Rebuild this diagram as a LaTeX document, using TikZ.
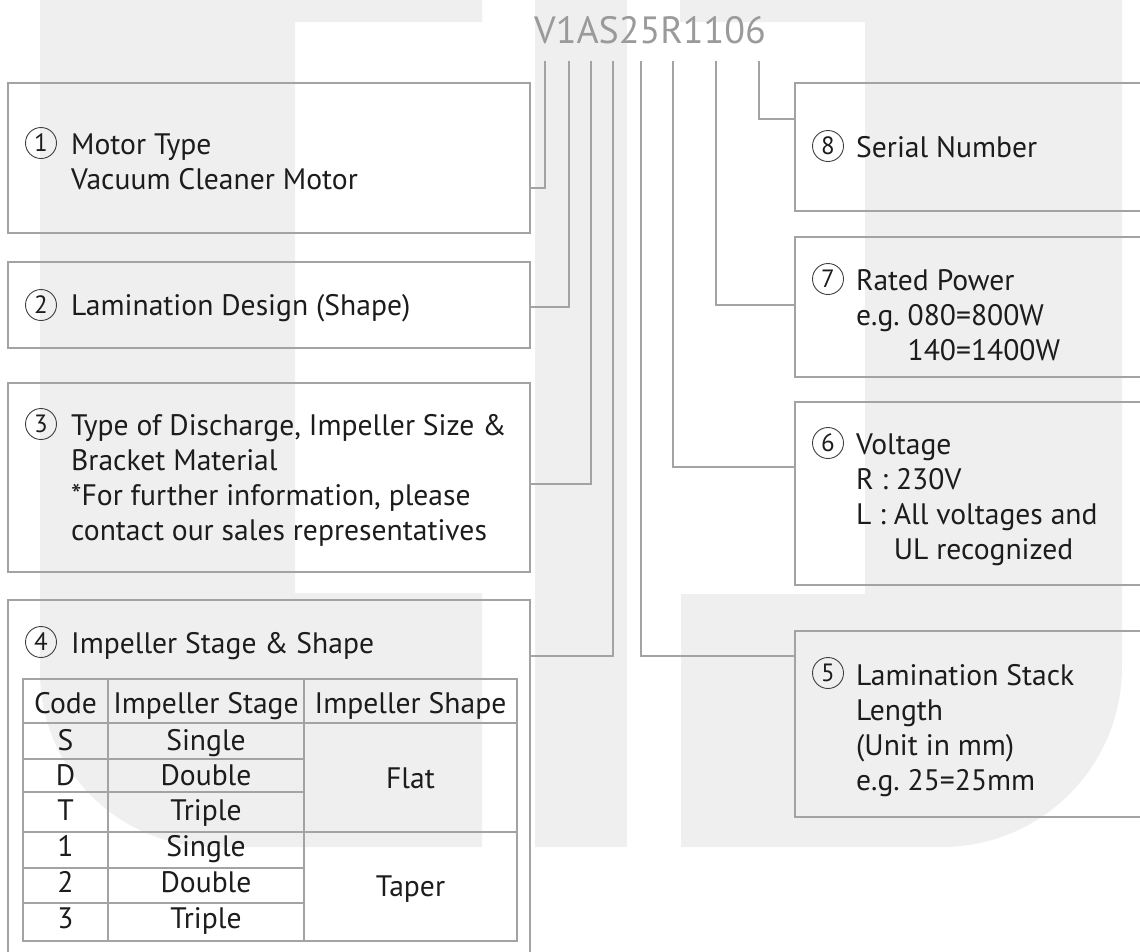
\documentclass[tikz,border=0pt]{standalone}
\usepackage{fontspec}
\setmainfont{PT Sans}
\definecolor{lineg}{HTML}{A3A3A3}
\definecolor{ink}{HTML}{1C1C1C}
\definecolor{wm}{HTML}{EFEFEF}
\definecolor{titleg}{HTML}{9A9A9A}
\newcommand{\mlines}[1]{\begin{tabular}[t]{@{}l@{}}#1\end{tabular}}
\frenchspacing
\begin{document}
\begin{tikzpicture}[x=1pt,y=-1pt,
  box/.style={draw=lineg,line width=1.8pt,anchor=north west,inner sep=0pt,outer sep=0pt},
  conn/.style={draw=lineg,line width=1.8pt},
  txt/.style={anchor=base west,inner sep=0pt,text=ink,font=\fontsize{29.6}{35}\selectfont},
  num/.style={circle,draw=ink!85,line width=0.9pt,minimum size=31pt,inner sep=0pt,text=ink,font=\fontsize{25}{25}\selectfont},
  cell/.style={anchor=base,inner sep=0pt,text=ink,font=\fontsize{29.6}{35}\selectfont},
  tline/.style={draw=lineg,line width=1.6pt}]
\useasboundingbox (0,0) rectangle (1140,951);
\clip (0,0) rectangle (1140,951);
% watermark
\fill[wm] (40,-5) -- (482,-5) -- (482,22) -- (295,22) -- (295,593) -- (482,593) -- (482,847) -- (215,847) .. controls (118.3,847) and (40,768.7) .. (40,672) -- cycle;
\fill[wm] (535,-5) rectangle (627,847);
\fill[wm] (680,-5) -- (1122,-5) -- (1122,667) .. controls (1122,766.4) and (1041.4,847) .. (942,847) -- (681,847) -- (681,594) -- (865,594) -- (865,22) -- (680,22) -- cycle;
% title
\node[anchor=base,inner sep=0pt,text=titleg,font=\fontsize{38}{38}\selectfont] (code) at (650,43) {V1AS25R1106};
% boxes
\node[box,minimum width=522pt,minimum height=150pt] (b1) at (8,83) {};
\node[box,minimum width=522pt,minimum height=86pt] (b2) at (8,262) {};
\node[box,minimum width=522pt,minimum height=189pt] (b3) at (8,383) {};
\node[box,minimum width=522pt,minimum height=380pt] (b4) at (8,600) {};
\node[box,minimum width=370pt,minimum height=128pt] (b8) at (795,83) {};
\node[box,minimum width=370pt,minimum height=140pt] (b7) at (795,237) {};
\node[box,minimum width=370pt,minimum height=183pt] (b6) at (795,402) {};
\node[box,minimum width=370pt,minimum height=186pt] (b5) at (795,631) {};
% connectors
\coordinate (s1) at (545,61); \coordinate (e1) at (530,188);
\coordinate (s2) at (569,61); \coordinate (e2) at (530,307);
\coordinate (s3) at (591,61); \coordinate (e3) at (530,484);
\coordinate (s4) at (613,61); \coordinate (e4) at (530,656);
\coordinate (s5) at (641,61); \coordinate (e5) at (795,656);
\coordinate (s6) at (673,61); \coordinate (e6) at (795,467);
\coordinate (s7) at (716,61); \coordinate (e7) at (795,305);
\coordinate (s8) at (759,61); \coordinate (e8) at (795,119);
\foreach \i in {1,...,8} {\draw[conn] (s\i) |- (e\i);}
% left texts
\node[num] (n1) at (41,143) {1};
\node[txt] (t1) at (71,154) {\mlines{Motor Type\\Vacuum Cleaner Motor}};
\node[num] (n2) at (41,305) {2};
\node[txt] (t2) at (71,315) {Lamination Design (Shape)};
\node[num] (n3) at (41,424) {3};
\node[txt] (t3) at (71,435) {\mlines{Type of Discharge, Impeller Size \&\\Bracket Material\\{}*For further information, please\\contact our sales representatives}};
\node[num] (n4) at (41,642) {4};
\node[txt] (t4) at (71,653) {Impeller Stage \& Shape};
% right texts
\node[num] (n8) at (828,146) {8};
\node[txt] (t8) at (856,157) {Serial Number};
\node[num] (n7) at (828,279) {7};
\node[txt] (t7) at (856,290) {\mlines{Rated Power\\e.g. 080=800W\\\phantom{e.g. }140=1400W}};
\node[num] (n6) at (828,443) {6};
\node[txt] (t6) at (856,454) {\mlines{Voltage\\R : 230V\\L : All voltages and\\\phantom{L : }UL recognized}};
\node[num] (n5) at (828,673) {5};
\node[txt] (t5) at (856,685) {\mlines{Lamination Stack\\Length\\(Unit in mm)\\e.g. 25=25mm}};
% table
\draw[tline] (23,679) rectangle (517,941);
\draw[tline] (108,679) -- (108,941) (304,679) -- (304,941);
\draw[tline] (23,723) -- (517,723) (23,832) -- (517,832);
\draw[tline] (23,759) -- (304,759) (23,792) -- (304,792) (23,868) -- (304,868) (23,903) -- (304,903);
\node[cell] (h1) at (65.5,713) {Code};
\node[cell] (h2) at (206,713) {Impeller Stage};
\node[cell] (h3) at (410.5,713) {Impeller Shape};
\node[cell] (r1a) at (65.5,750) {S};
\node[cell] (r1b) at (206,750) {Single};
\node[cell] (r2a) at (65.5,785) {D};
\node[cell] (r2b) at (206,785) {Double};
\node[cell] (r3a) at (65.5,820) {T};
\node[cell] (r3b) at (206,820) {Triple};
\node[cell] (r4a) at (65.5,856) {1};
\node[cell] (r4b) at (206,856) {Single};
\node[cell] (r5a) at (65.5,892) {2};
\node[cell] (r5b) at (206,892) {Double};
\node[cell] (r6a) at (65.5,928) {3};
\node[cell] (r6b) at (206,928) {Triple};
\node[cell] (flat) at (410.5,788) {Flat};
\node[cell] (taper) at (410.5,896) {Taper};
\end{tikzpicture}
\end{document}
